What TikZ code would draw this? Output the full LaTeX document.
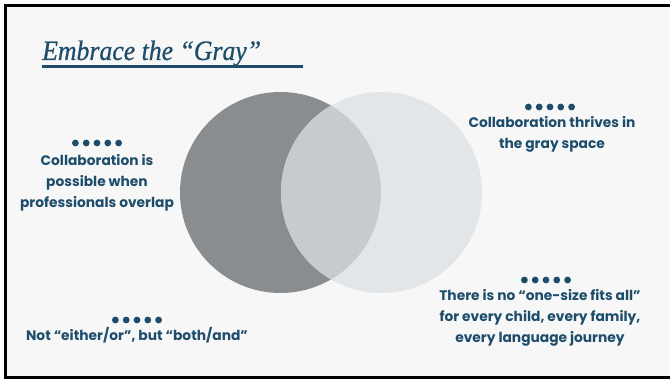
\documentclass[tikz,border=0pt]{standalone}
\usepackage{fontspec}
\setmainfont{Poppins}
\newfontfamily\titlefont[ItalicFeatures={FakeBold=0.7,FakeStretch=0.92}]{Liberation Serif}
\definecolor{ink}{HTML}{1E4D6B}
\definecolor{bg}{HTML}{F7F7F7}
\definecolor{leftc}{HTML}{8A8D90}
\definecolor{rightc}{HTML}{E3E6E8}
\definecolor{midc}{HTML}{C8CBCE}
\tikzset{
  body/.style={text=ink, align=center, font=\fontsize{13.8}{21}\selectfont\bfseries, inner sep=0pt},
  dot/.style={circle, fill=ink, inner sep=0pt, minimum size=6.8pt},
}
\newcommand{\fivedots}[2]{%
  \foreach \k in {-2,...,2} {\node[dot] (d#2\k) at ([xshift=\k*10.8pt]#1) {};}%
}
\begin{document}
\begin{tikzpicture}[x=1pt,y=-1pt]
\useasboundingbox (0,0) rectangle (670,379);
\fill[white] (0,0) rectangle (670,379);
\draw[line width=3pt, fill=bg] (5.5,5.5) rectangle (700,378);
% title
\node[anchor=base west, inner sep=0pt, text=ink, font=\titlefont\itshape\fontsize{28}{30}\selectfont] (title) at (42,60) {Embrace the “Gray”};
\coordinate (ul1) at (42,67);
\coordinate (ul2) at (303,67);
\draw[ink, line width=3pt] (ul1) -- (ul2);
% circles
\coordinate (cl) at (280.5,192.5);
\coordinate (cr) at (381.5,192.5);
\fill[leftc] (cl) circle (100.5);
\fill[rightc] (cr) circle (100.5);
\begin{scope}
  \clip (cl) circle (100.5);
  \fill[midc] (cr) circle (100.5);
\end{scope}
% texts
\node[body, anchor=north] (t1) at (97,154) {Collaboration is\\possible when\\professionals overlap};
\fivedots{97,143}{a}
\node[body, anchor=north] (t2) at (552,116) {Collaboration thrives in\\the gray space};
\fivedots{550,107}{b}
\node[body, anchor=north] (t3) at (540,289) {There is no “one-size fits all”\\for every child, every family,\\every language journey};
\fivedots{546,280}{c}
\node[body, anchor=north] (t4) at (137,327) {Not “either/or”, but “both/and”};
\fivedots{137,320}{d}
\end{tikzpicture}
\end{document}
